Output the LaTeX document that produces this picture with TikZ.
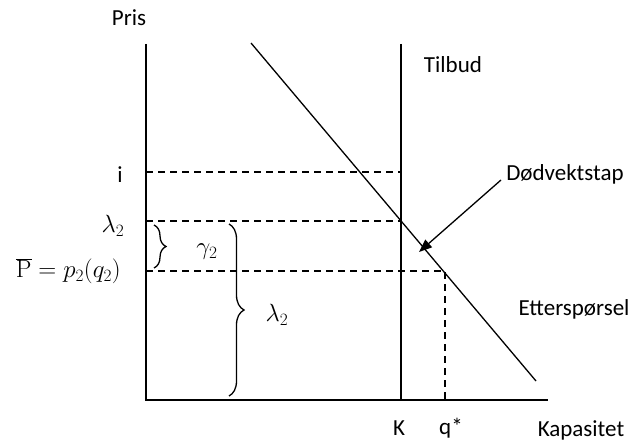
\documentclass[tikz,border=0pt]{standalone}
\usepackage[no-math]{fontspec}
\setmainfont{Carlito}
\usetikzlibrary{arrows.meta, positioning, decorations.pathreplacing}

\begin{document}
\begin{tikzpicture}[
    x=1pt, y=-1pt,
    axis/.style={line width=1.8pt},
    curve/.style={line width=1.3pt},
    guide/.style={line width=1.2pt, dash pattern=on 7pt off 5pt},
    pointer/.style={line width=1.3pt, -{Triangle[length=13pt, width=10pt]}},
    bracket/.style={line width=1.3pt, decorate, decoration={brace, amplitude=#1}},
    lbl/.style={inner sep=0pt, font=\fontsize{23}{27}\selectfont}
]
\useasboundingbox (0,0) rectangle (632,441);

% Axes
\coordinate (origin) at (146,400);
\coordinate (ytop) at (146,44);
\coordinate (xend) at (548,400);
\draw[axis] (ytop) -- (origin) -- (xend);

% Supply (capacity K)
\coordinate (Ktop) at (401,44);
\coordinate (Kbot) at (401,400);
\draw[curve] (Ktop) -- (Kbot);

% Demand
\coordinate (dtop) at (251,43);
\coordinate (dbot) at (536,381);
\draw[curve] (dtop) -- (dbot);

% Price levels
\coordinate (iL) at (146,172);
\coordinate (iR) at (401,172);
\coordinate (lamL) at (146,221);
\coordinate (lamR) at (401,221);
\coordinate (pL) at (146,271);
\coordinate (pR) at (445,271);
\coordinate (qstar) at (445,400);
\draw[guide] (iL) -- (iR);
\draw[guide] (lamL) -- (lamR);
\draw[guide] (pL) -- (pR) -- (qstar);

% Braces
\coordinate (gtop) at (154,225);
\coordinate (gbot) at (154,268);
\coordinate (ltop) at (229,224);
\coordinate (lbot) at (229,396);
\draw[bracket=12pt] (gtop) -- (gbot);
\draw[bracket=15pt] (ltop) -- (lbot);

% Labels
\node[lbl] (pris) at (129,18) {Pris};
\node[lbl] (ilbl) at (120,175) {i};
\node[lbl] (lamlbl) at (113,226) {$\lambda_2$};
\node[lbl, anchor=east] (plbl) at (121,271) {$\overline{\mathrm{P}}=p_2(q_2)$};
\node[lbl] (gamlbl) at (207,252) {$\gamma_2$};
\node[lbl] (lamlbl2) at (277,315) {$\lambda_2$};
\node[lbl] (tilbud) at (453,65) {Tilbud};
\node[lbl] (dvt) at (565,174) {Dødvektstap};
\node[lbl] (etter) at (574,309) {Etterspørsel};
\node[lbl] (klbl) at (399,428) {K};
\node[lbl] (qlbl) at (451,428) {q*};
\node[lbl] (kap) at (581,430) {Kapasitet};

% Deadweight loss pointer
\coordinate (tapstart) at (501,180);
\coordinate (tapend) at (419,252);
\draw[pointer] (tapstart) -- (tapend);

\end{tikzpicture}
\end{document}
